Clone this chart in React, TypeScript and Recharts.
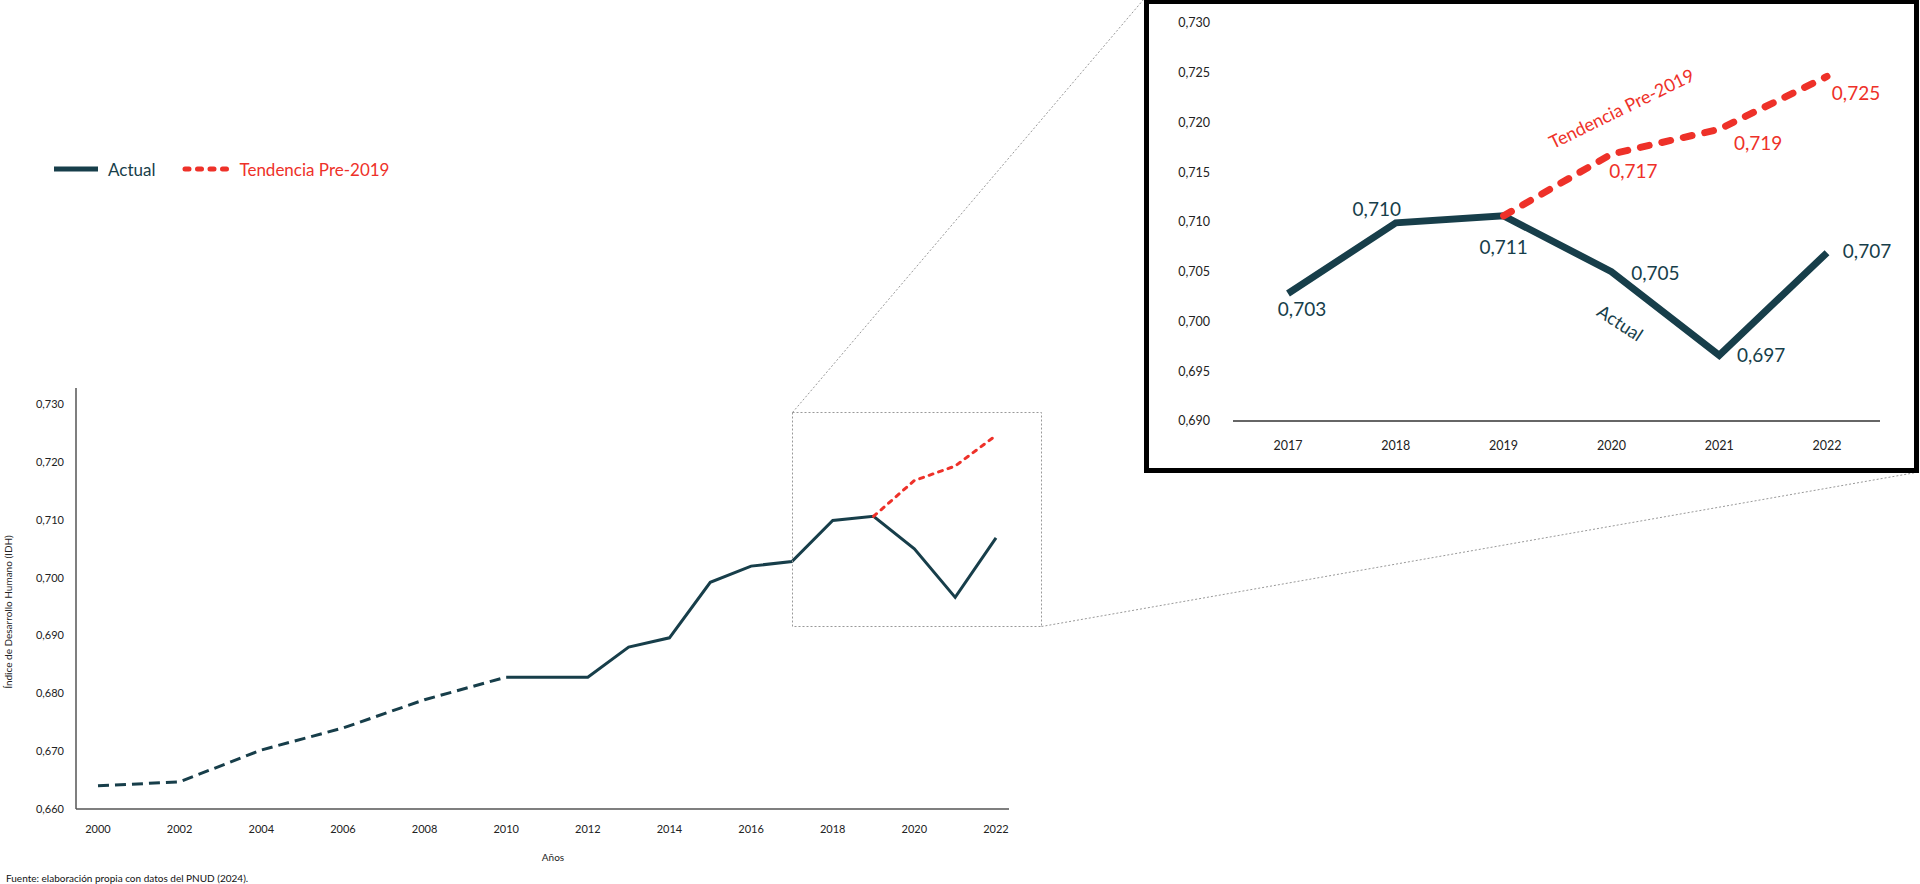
import React from 'react';
import { LineChart, Line, XAxis, YAxis, LabelList } from 'recharts';

const FONT = 'Lato, "Noto Sans", sans-serif';
const DARK = '#173e4a';
const RED = '#ee3129';

// years with a reading (odd years 2001-2009 have none)
const years = [2000, 2002, 2004, 2006, 2008, 2010, 2011, 2012, 2013, 2014, 2015, 2016, 2017, 2018, 2019, 2020, 2021, 2022];
const estimatedIdh = [0.664, 0.6647, 0.6702, 0.674, 0.6789, 0.6828, null, null, null, null, null, null, null, null, null, null, null, null];
const actualIdh = [null, null, null, null, null, 0.6828, 0.6828, 0.6828, 0.688, 0.6896, 0.6992, 0.702, 0.7028, 0.7099, 0.7106, 0.705, 0.6966, 0.7069];
const trendIdh = [null, null, null, null, null, null, null, null, null, null, null, null, null, null, 0.7106, 0.7168, 0.7193, 0.7246];

const mainXTicks = [2000, 2002, 2004, 2006, 2008, 2010, 2012, 2014, 2016, 2018, 2020, 2022];
const mainYTicks = [0.66, 0.67, 0.68, 0.69, 0.7, 0.71, 0.72, 0.73];
const insetXTicks = [2017, 2018, 2019, 2020, 2021, 2022];
const insetYTicks = [0.69, 0.695, 0.7, 0.705, 0.71, 0.715, 0.72, 0.725, 0.73];

const table = years.map((year, i) => ({
  year,
  estimated: estimatedIdh[i],
  actual: actualIdh[i],
  trend: trendIdh[i],
}));
const insetTable = table.filter((d) => d.year >= 2017);

const fmt = (v: number) => v.toFixed(3).replace('.', ',');

// label placement (dx, dy from the point) in the zoomed chart, by index
const actualLabelOffsets: ([number, number] | null)[] = [[14, 15], [-19, -14], [0, 31], [44, 1], [42, -1], [40, -2]];
const trendLabelOffsets: ([number, number] | null)[] = [null, null, null, [22, 16], [39, 13], [29, 16]];

const makeLabel = (offsets: ([number, number] | null)[], color: string, name: string, nameOffset: [number, number, number]) =>
  (props: any) => {
    const { x, y, value, index } = props;
    if (value == null) return null;
    const off = offsets[index];
    return (
      <g>
        {off && (
          <text x={x + off[0]} y={y + off[1]} fill={color} fontSize={19} fontFamily={FONT} textAnchor="middle" dominantBaseline="central">
            {fmt(value)}
          </text>
        )}
        {index === 3 && (
          <text
            x={x + nameOffset[0]}
            y={y + nameOffset[1]}
            fill={color}
            fontSize={18}
            fontFamily={FONT}
            textAnchor="middle"
            dominantBaseline="central"
            transform={`rotate(${nameOffset[2]} ${x + nameOffset[0]} ${y + nameOffset[1]})`}
          >
            {name}
          </text>
        )}
      </g>
    );
  };

const ActualLabel = makeLabel(actualLabelOffsets, DARK, 'Actual', [9, 51, 33]);
const TrendLabel = makeLabel(trendLabelOffsets, RED, 'Tendencia Pre-2019', [10, -46, -26]);

const LegendRow = () => (
  <div style={{ position: 'absolute', left: 53, top: 157, display: 'flex', alignItems: 'center', fontFamily: FONT, fontSize: 17 }}>
    <svg width={46} height={24}>
      <line x1={1} y1={12} x2={45} y2={12} stroke={DARK} strokeWidth={5} />
    </svg>
    <span style={{ color: DARK, marginLeft: 9 }}>Actual</span>
    <svg width={52} height={24} style={{ marginLeft: 27 }}>
      <line x1={3} y1={12} x2={50} y2={12} stroke={RED} strokeWidth={5} strokeDasharray="4 8.5" strokeLinecap="round" />
    </svg>
    <span style={{ color: RED, marginLeft: 5 }}>Tendencia Pre-2019</span>
  </div>
);

export default function App() {
  return (
    <div style={{ position: 'absolute', left: 0, top: 0, width: 1920, height: 884, overflow: 'hidden', background: '#fff', fontFamily: FONT }}>
      <LegendRow />

      <div style={{ position: 'absolute', left: 0, top: 0 }}>
        <LineChart width={1040} height={884} data={table} margin={{ top: 388, right: 31, bottom: 45, left: 0 }}>
          <XAxis
            type="number"
            dataKey="year"
            domain={[2000, 2022]}
            ticks={mainXTicks}
            padding={{ left: 22, right: 13 }}
            axisLine={{ stroke: '#555', strokeWidth: 1.5 }}
            tickLine={false}
            tickSize={0}
            tickMargin={16}
            height={30}
            tick={{ fill: '#222', fontSize: 11, fontFamily: FONT }}
          />
          <YAxis
            type="number"
            domain={[0.66, 0.7328]}
            ticks={mainYTicks}
            allowDataOverflow
            tickFormatter={fmt}
            width={76}
            axisLine={{ stroke: '#555', strokeWidth: 1.5 }}
            tickLine={false}
            tickSize={0}
            tickMargin={12}
            tick={{ fill: '#222', fontSize: 11, fontFamily: FONT }}
          />
          <Line dataKey="estimated" stroke={DARK} strokeWidth={3} strokeDasharray="11 6" dot={false} isAnimationActive={false} />
          <Line dataKey="actual" stroke={DARK} strokeWidth={3} dot={false} isAnimationActive={false} />
          <Line dataKey="trend" stroke={RED} strokeWidth={3} strokeDasharray="4 6" strokeLinecap="round" dot={false} isAnimationActive={false} />
        </LineChart>
      </div>

      <div style={{ position: 'absolute', left: 553, top: 851, transform: 'translateX(-50%)', fontSize: 10, color: '#222' }}>Años</div>
      <div
        style={{
          position: 'absolute',
          left: 8,
          top: 612,
          transform: 'translate(-50%, -50%) rotate(-90deg)',
          whiteSpace: 'nowrap',
          fontSize: 10,
          color: '#222',
        }}
      >
        Índice de Desarrollo Humano (IDH)
      </div>
      <div style={{ position: 'absolute', left: 6, top: 872, fontSize: 10, color: '#111', whiteSpace: 'nowrap' }}>
        Fuente: elaboración propia con datos del PNUD (2024).
      </div>

      <svg width={1920} height={884} style={{ position: 'absolute', left: 0, top: 0, pointerEvents: 'none' }}>
        <rect x={792.5} y={412.5} width={249} height={214} fill="none" stroke="#999" strokeWidth={1} strokeDasharray="2 2" />
        <line x1={792.5} y1={412.5} x2={1144} y2={-1} stroke="#999" strokeWidth={1} strokeDasharray="2 2" />
        <line x1={1041.5} y1={626.5} x2={1919} y2={472} stroke="#999" strokeWidth={1} strokeDasharray="2 2" />
      </svg>

      <div
        style={{
          position: 'absolute',
          left: 1144,
          top: -1,
          width: 775,
          height: 474,
          border: '5px solid #000',
          boxSizing: 'border-box',
          background: '#fff',
        }}
      />
      <div style={{ position: 'absolute', left: 1150, top: 4 }}>
        <LineChart width={760} height={464} data={insetTable} margin={{ top: 18.7, right: 30, bottom: 17, left: 0 }}>
          <XAxis
            type="number"
            dataKey="year"
            domain={[2017, 2022]}
            ticks={insetXTicks}
            padding={{ left: 55, right: 53 }}
            axisLine={{ stroke: '#333', strokeWidth: 1.5 }}
            tickLine={false}
            tickSize={0}
            tickMargin={20}
            height={30}
            tick={{ fill: '#222', fontSize: 12.5, fontFamily: FONT }}
          />
          <YAxis
            type="number"
            domain={[0.69, 0.73]}
            ticks={insetYTicks}
            tickFormatter={fmt}
            width={83}
            axisLine={false}
            tickLine={false}
            tickSize={0}
            tickMargin={23}
            tick={{ fill: '#222', fontSize: 12.5, fontFamily: FONT }}
          />
          <Line dataKey="actual" stroke={DARK} strokeWidth={7} dot={false} isAnimationActive={false}>
            <LabelList dataKey="actual" content={ActualLabel} />
          </Line>
          <Line dataKey="trend" stroke={RED} strokeWidth={7} strokeDasharray="9 13" strokeLinecap="round" dot={false} isAnimationActive={false}>
            <LabelList dataKey="trend" content={TrendLabel} />
          </Line>
        </LineChart>
      </div>
    </div>
  );
}
